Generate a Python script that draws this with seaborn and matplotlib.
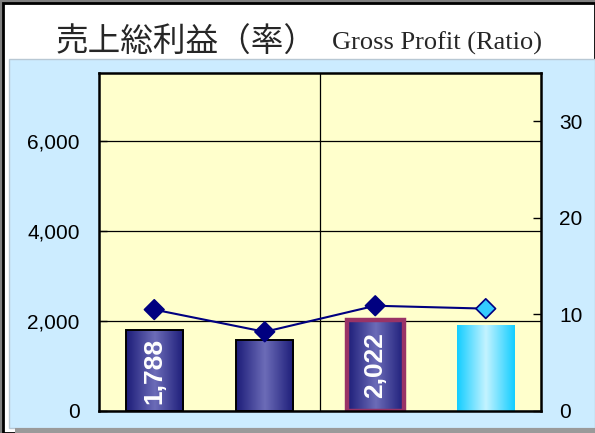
"""Gross profit (ratio) chart: bars for amount, line for ratio."""

import matplotlib
matplotlib.use('Agg')
import matplotlib.pyplot as plt
from matplotlib.colors import LinearSegmentedColormap
from matplotlib.patches import Rectangle
import numpy as np
import pandas as pd
import seaborn as sns

# ── data ──────────────────────────────────────────────────────
periods = ['P1', 'P2', 'P3', 'P4']
gross_profit = [1788, 1580, 2022, 1900]
profit_ratio = [10.5, 8.2, 10.9, 10.6]
bar_labels = ['1,788', '', '2,022', '']
left_ticks = [0, 2000, 4000, 6000]
right_ticks = [0, 10, 20, 30]

df = pd.DataFrame({'period': periods, 'profit': gross_profit, 'ratio': profit_ratio})

# ── style ─────────────────────────────────────────────────────
sns.set_theme(style='white')
plt.rcParams['font.family'] = ['Liberation Sans', 'DejaVu Sans']

NAVY = '#000080'
PANEL = '#CCECFF'
PLOT_BG = '#FFFFCC'
navy_grad = LinearSegmentedColormap.from_list('navy', ['#1c1c78', '#6c6cb8', '#1c1c78'])
cyan_grad = LinearSegmentedColormap.from_list('cyan', ['#12cdff', '#c4f3ff', '#12cdff'])

W, H = 595, 433
fig = plt.figure(figsize=(W / 100, H / 100), dpi=100)
fig.patch.set_facecolor('white')


def px_rect(x, y, w, h, **kw):
    """Rectangle given in pixel coords (top-left origin)."""
    r = Rectangle((x / W, 1 - (y + h) / H), w / W, h / H,
                  transform=fig.transFigure, **kw)
    fig.add_artist(r)
    return r


# outer frame and panels
px_rect(0, 0, 3, H, facecolor='#808080', edgecolor='none', zorder=0)
px_rect(0, 0, W, 3, facecolor='#808080', edgecolor='none', zorder=0)
px_rect(3, 3, W - 3, H - 3, facecolor='white', edgecolor='black', linewidth=2, zorder=0)
px_rect(9, 59, W - 9, 369, facecolor=PANEL, edgecolor='#b8c8d4', linewidth=1, zorder=0)
px_rect(15, 428, W - 15, 5, facecolor='#9a9a9a', edgecolor='none', zorder=0)

# ── main axes ─────────────────────────────────────────────────
ax = fig.add_axes([99 / W, 1 - 411 / H, 442 / W, 338 / H])
ax.set_facecolor(PLOT_BG)
sns.barplot(data=df, x='period', y='profit', ax=ax, width=0.52,
            color=NAVY, saturation=1)

ax.set_ylim(0, 7500)
ax.set_xlim(-0.5, 3.5)
ax.set_yticks(left_ticks)
ax.set_yticklabels([f'{v:,}' for v in left_ticks])
ax.set_xticks([])
ax.set_xlabel('')
ax.set_ylabel('')
ax.set_axisbelow(True)
ax.grid(True, axis='y', color='black', linewidth=0.9)
ax.axvline(1.5, color='black', linewidth=0.9, zorder=0.5)
ax.tick_params(axis='y', direction='in', length=6, width=1, pad=14,
               labelsize=15, colors='black')
for sp in ax.spines.values():
    sp.set_color('black')
    sp.set_linewidth(1.8)

# gradient fills, clipped to each bar
for i, patch in enumerate(ax.patches):
    x0, y0 = patch.get_x(), patch.get_y()
    w, h = patch.get_width(), patch.get_height()
    cmap = cyan_grad if i == 3 else navy_grad
    grad = np.linspace(0, 1, 256).reshape(1, -1)
    im = ax.imshow(grad, cmap=cmap, aspect='auto', extent=(x0, x0 + w, y0, y0 + h),
                   zorder=1.5, interpolation='bilinear')
    im.set_clip_path(patch)
    patch.set_facecolor('none')
    patch.set_zorder(2)
    if i == 2:
        patch.set_edgecolor('#993366')
        patch.set_linewidth(3.2)
    elif i == 3:
        patch.set_edgecolor('none')
    else:
        patch.set_edgecolor('black')
        patch.set_linewidth(1.4)
    if bar_labels[i]:
        ax.text(x0 + w / 2, h / 2, bar_labels[i], rotation=90, ha='center',
                va='center', color='white', fontsize=19, fontweight='bold', zorder=3)

ax.set_xlim(-0.5, 3.5)
ax.set_ylim(0, 7500)

# ── ratio axis ────────────────────────────────────────────────
ax2 = ax.twinx()
sns.lineplot(data=df, x='period', y='ratio', ax=ax2, color=NAVY, linewidth=1.5,
             zorder=3)
marker_face = [NAVY, NAVY, NAVY, '#33CCFF']
sns.scatterplot(data=df, x='period', y='ratio', ax=ax2, hue='period',
                palette=dict(zip(periods, marker_face)), marker='D', s=100,
                edgecolor=NAVY, linewidth=1.2, legend=False, zorder=4)
ax2.set_ylim(0, 35)
ax2.set_xlim(-0.5, 3.5)
ax2.set_yticks(right_ticks)
ax2.set_ylabel('')
ax2.grid(False)
ax2.tick_params(axis='y', direction='in', length=6, width=1, pad=13,
                labelsize=15, colors='black')
for sp in ax2.spines.values():
    sp.set_visible(False)

# ── title ─────────────────────────────────────────────────────
fig.text(56 / W, 1 - 52 / H, '売上総利益（率）', fontsize=23.5, va='baseline', ha='left',
         family=['Noto Sans CJK JP', 'DejaVu Sans'])
fig.text(332 / W, 1 - 50 / H, 'Gross Profit (Ratio)', fontsize=19, va='baseline', ha='left',
         family=['Liberation Serif', 'DejaVu Serif'])

fig.savefig('out.png', dpi=100)
